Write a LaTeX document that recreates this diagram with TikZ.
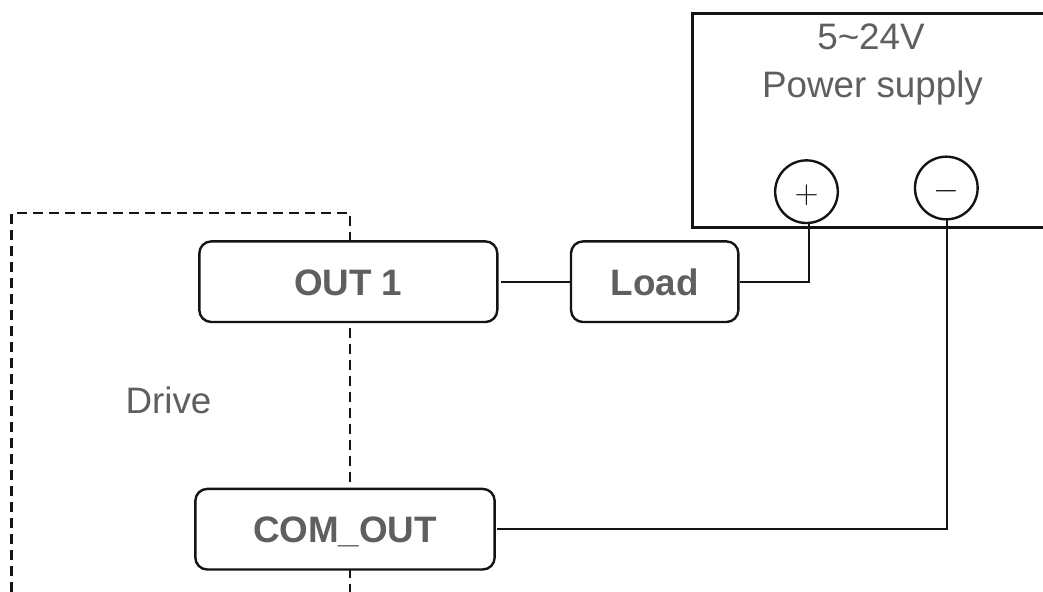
\documentclass[tikz,border=0pt]{standalone}
\usepackage{fontspec}
\setmainfont{Liberation Sans}
\usetikzlibrary{positioning,calc}
\definecolor{labelgray}{HTML}{5F5F5F}
\definecolor{wireblack}{HTML}{141414}
\tikzset{
	blockbox/.style={draw=wireblack,line width=1.8pt,fill=white,rounded corners=9pt,inner sep=0pt,
		minimum height=60.5pt,text height=20.6pt,text depth=0pt,text=labelgray,font=\fontsize{27.6}{30}\selectfont\bfseries},
	terminal/.style={draw=wireblack,line width=1.8pt,circle,inner sep=0pt,minimum size=47pt},
	wire/.style={draw=wireblack,line width=1.8pt},
	plainlabel/.style={anchor=base,inner sep=0pt,text=labelgray,font=\fontsize{27.6}{30}\selectfont},
}
\begin{document}
\begin{tikzpicture}[x=0.75pt,y=-0.75pt]
	\useasboundingbox (0,0) rectangle (1043,592);
	
	% drive outline, cut off by the page
	\coordinate (driveStart) at (11.5,592);
	\coordinate (driveEnd) at (350,592);
	\draw[wireblack,line width=1.8pt,dash pattern=on 7.5pt off 4.5pt] (driveStart) |- (350,213) -- (driveEnd);
	\node[plainlabel] (drive) at (168.5,413.5) {Drive};
	
	% power supply, open at the right edge
	\coordinate (supplyTop) at (1043,13.5);
	\coordinate (supplyBottom) at (1043,227.5);
	\draw[wire] (supplyTop) -| (692.5,227.5) -- (supplyBottom);
	\node[plainlabel] (volts) at (871,50) {5\char"7E 24V};
	\node[plainlabel] (supply) at (872.5,98) {Power supply};
	\node[terminal] (plus) at (806.5,191.7) {};
	\node[terminal] (minus) at (946.3,188) {};
	\node[text=wireblack,inner sep=0pt] (plussign) at (806.5,195.5) {\Huge$+$};
	\node[text=wireblack,inner sep=0pt] (minussign) at (946.3,191) {\Huge$-$};
	
	\node[blockbox,minimum width=223.5pt] (out1) at (348.3,281.7) {OUT 1};
	\node[blockbox,minimum width=125.5pt] (load) at (654.7,281.7) {Load};
	\node[blockbox,minimum width=224.5pt] (comout) at (345,529.2) {COM\_OUT};
	
	\coordinate (plusPin) at (808.7,222.5);
	\coordinate (minusPin) at (946.7,219);
	\draw[wire] ([xshift=1.5pt]out1.east) -- (load.west);
	\draw[wire] (load.east) -| (plusPin);
	\draw[wire] ([xshift=0.7pt]comout.east) -| (minusPin);
\end{tikzpicture}
\end{document}
